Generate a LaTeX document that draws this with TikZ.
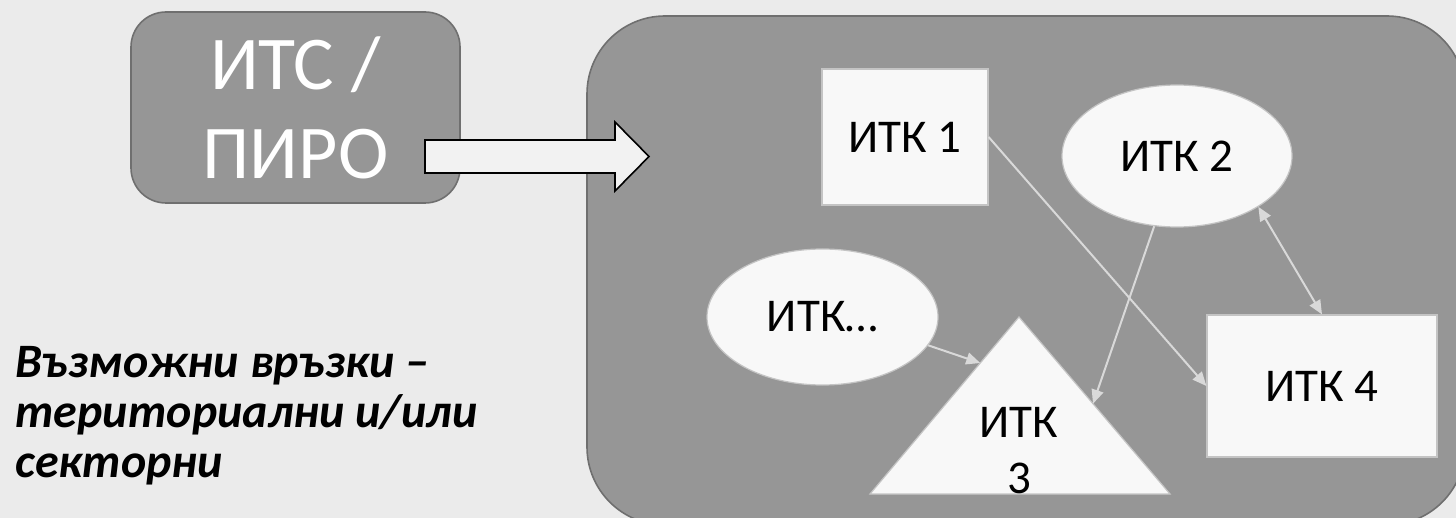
\documentclass[tikz,border=0pt]{standalone}
\usepackage{fontspec}
\setmainfont{Carlito}
\usetikzlibrary{arrows.meta,calc,shapes.geometric}

\definecolor{slide}{HTML}{EBEBEB}
\definecolor{panel}{HTML}{969696}
\definecolor{panelline}{HTML}{6F6F6F}
\definecolor{paper}{HTML}{F8F8F8}
\definecolor{paperline}{HTML}{C4C4C4}
\definecolor{linkline}{HTML}{D9D9D9}
\definecolor{arrowfill}{HTML}{F2F2F2}

\tikzstyle{panelbox}=[
    draw=panelline,
    fill=panel,
    line width=0.8pt,
  ]
\tikzstyle{itk}=[
    draw=paperline,
    fill=paper,
    line width=0.6pt,
    inner sep=0pt,
    font=\fontsize{23.5}{28}\selectfont,
  ]
\tikzstyle{link}=[
    -{Triangle[length=7pt,width=6pt]},
    draw=linkline,
    line width=1pt,
  ]

\begin{document}
\begin{tikzpicture}[x=0.5pt,y=-0.5pt]
      \useasboundingbox (0,0) rectangle (1456,518);
      \fill[slide] (0,0) rectangle (1456,518);
      \node[panelbox, rounded corners=17.5pt, minimum width=164.5pt, minimum height=95.5pt,
            text=white, align=center, font=\fontsize{38}{44.5}\selectfont] (itspiro) at (295.5,107.5) {ИТС /\\ПИРО};
      \node[panelbox, rounded corners=39pt, minimum width=439pt, minimum height=254.5pt] (region) at (1026,270.5) {};
      \draw[fill=arrowfill, line width=0.8pt, line join=miter] (425,140) -- (615,140) -- (615,122) -- (649,156.5)
        -- (615,191) -- (615,173) -- (425,173) -- cycle;
      \node[itk, rectangle, minimum width=83pt, minimum height=68pt] (itk1) at (905,137) {ИТК 1};
      \node[itk, ellipse, minimum width=115pt, minimum height=71pt] (itk2) at (1177,156) {ИТК 2};
      \node[itk, ellipse, minimum width=115.5pt, minimum height=68pt] (itkdots) at (822.5,317) {ИТК…};
      \node[itk, rectangle, minimum width=115pt, minimum height=71pt] (itk4) at (1322,386) {ИТК 4};
      \coordinate (apex) at (1019,317);
      \coordinate (baseleft) at (870,494);
      \coordinate (baseright) at (1170,494);
      \filldraw[itk] (apex) -- (baseright) -- (baseleft) -- cycle;
      \node[font=\fontsize{23.5}{28}\selectfont, align=center, inner sep=0pt] (itk3) at (1019,451) {ИТК\\3};
      \draw[link] (itk1.east) -- (itk4.west);
      \draw[link] (itk2.252) -- ($(apex)!0.49!(baseright)$);
      \draw[link] (itkdots.345) -- ($(apex)!0.26!(baseleft)$);
      \draw[link, {Triangle[length=7pt,width=6pt]}-{Triangle[length=7pt,width=6pt]}] (itk2.328) -- (itk4.north);
      \node[anchor=base west, align=left, inner sep=0pt,
            font=\bfseries\itshape\fontsize{24}{25}\selectfont] (kinds) at (15,477) {Възможни връзки –\\териториални и/или\\секторни};
    \end{tikzpicture}
\end{document}
